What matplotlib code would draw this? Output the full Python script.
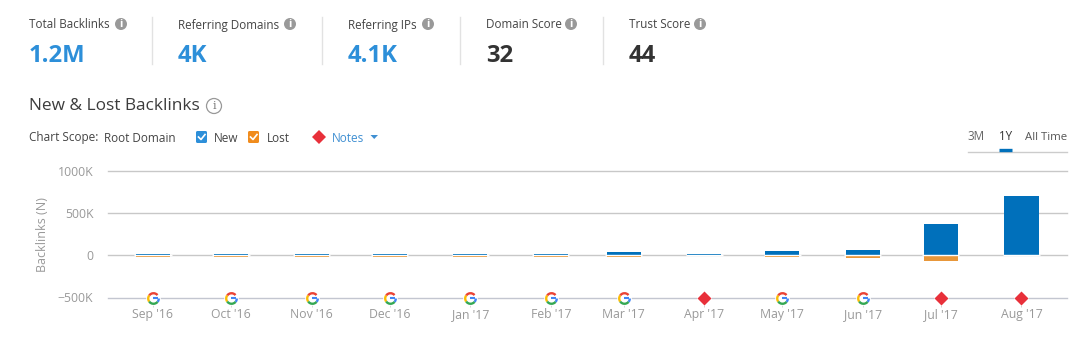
import matplotlib
matplotlib.use('Agg')
import matplotlib.pyplot as plt
import matplotlib.dates as mdates
from matplotlib.patches import Circle, FancyBboxPatch, Polygon
from matplotlib.path import Path
import numpy as np
import pandas as pd

plt.rcParams['font.family'] = ['Open Sans', 'DejaVu Sans']

# Chart data (thousands of backlinks)
months = pd.to_datetime(['2016-09-01', '2016-10-01', '2016-11-01', '2016-12-01',
                         '2017-01-01', '2017-02-01', '2017-03-01', '2017-04-01',
                         '2017-05-01', '2017-06-01', '2017-07-01', '2017-08-01'])
month_labels = ["Sep '16", "Oct '16", "Nov '16", "Dec '16", "Jan '17", "Feb '17",
                "Mar '17", "Apr '17", "May '17", "Jun '17", "Jul '17", "Aug '17"]
new_links = [18, 18, 18, 18, 18, 18, 45, 18, 50, 60, 375, 708]
lost_links = [-20, -20, -20, -20, -20, -20, -20, -5, -18, -32, -65, -3]
note_kind = ['g', 'g', 'g', 'g', 'g', 'g', 'g', 'd', 'g', 'g', 'd', 'd']
y_ticks = [-500, 0, 500, 1000]
y_tick_labels = ['\u2212500K', '0', '500K', '1000K']

# Header stats
stat_names = ['Total Backlinks', 'Referring Domains', 'Referring IPs', 'Domain Score', 'Trust Score']
stat_values = ['1.2M', '4K', '4.1K', '32', '44']
stat_colors = ['#2d8fd9', '#2d8fd9', '#2d8fd9', '#333333', '#333333']
stat_x = [29, 178, 348, 486, 629]
stat_icon_x = [121, 290, 428, 571, 700]
divider_x = [152, 322, 460, 603]

W, H = 1086, 352
BLUE = '#0070bb'
ORANGE = '#e8973a'
GREY = '#999999'
fig = plt.figure(figsize=(W / 100, H / 100), dpi=100, facecolor='white')

# overlay in pixel coords for the page furniture
pg = fig.add_axes([0, 0, 1, 1])
pg.set_xlim(0, W)
pg.set_ylim(H, 0)
pg.axis('off')


def info_icon(x, y, r=6):
    pg.add_patch(Circle((x, y), r, fc='#999999', ec='none'))
    pg.text(x, y + 0.3, 'i', color='white', fontsize=8, fontweight='bold', ha='center', va='center')


for name, val, col, x, ix in zip(stat_names, stat_values, stat_colors, stat_x, stat_icon_x):
    pg.text(x, 25, name, fontsize=8.4, color='#444444', va='center')
    pg.text(x, 55.5, val, fontsize=17.2, color=col, fontweight='bold', va='center')
    info_icon(ix, 24)
for x in divider_x:
    pg.plot([x, x], [17, 64], color='#e2e2e2', lw=1)

pg.text(29, 106, 'New & Lost Backlinks', fontsize=12.4, color='#3c3c3c', va='center')
pg.add_patch(Circle((214, 106), 7.5, fc='white', ec='#999999', lw=0.9))
pg.text(214, 106, 'i', fontsize=8, color='#777777', ha='center', va='center', family='DejaVu Serif')

pg.text(29, 138, 'Chart Scope:', fontsize=8.5, color='#444444', va='center')
pg.text(104.5, 138, 'Root Domain', fontsize=8.5, color='#444444', va='center')


def checkbox(x, col):
    pg.add_patch(FancyBboxPatch((x + 1, 132), 9, 10, boxstyle='round,pad=1,rounding_size=1.5', fc=col, ec='none'))
    pg.plot([x + 2.5, x + 5, x + 9], [137, 139.5, 134.5], color='white', lw=1.2)


checkbox(196, '#2d8fd9')
pg.text(214, 138, 'New', fontsize=8.5, color='#444444', va='center')
checkbox(248, '#f08c1e')
pg.text(266.5, 138, 'Lost', fontsize=8.5, color='#444444', va='center')
pg.add_patch(Polygon([[319, 130], [326, 137], [319, 144], [312, 137]], fc='#e8303a', ec='none'))
pg.text(332, 138, 'Notes', fontsize=8.5, color='#3f8fd2', va='center')
pg.add_patch(Polygon([[370.5, 135], [378, 135], [374.2, 139]], fc='#3f8fd2', ec='none'))

# range switcher
pg.text(976, 137, '3M', fontsize=8.4, color='#666666', ha='center', va='center')
pg.text(1005.5, 137, '1Y', fontsize=8.4, color='#333333', ha='center', va='center')
pg.text(1067, 137, 'All Time', fontsize=8.2, color='#555555', ha='right', va='center')
pg.plot([968, 1067], [151.5, 151.5], color='#cccccc', lw=1)
pg.plot([999, 1012], [150.3, 150.3], color=BLUE, lw=2.4, solid_capstyle='butt')

# main chart
ax = fig.add_axes([108 / W, 1 - 297.5 / H, (1067 - 108) / W, (297.5 - 171) / H], zorder=2)
ax.patch.set_alpha(0)
day = pd.Timedelta(days=1)
ax.set_xlim(mdates.date2num(months[0] - 17.3 * day), mdates.date2num(months[0] + 351.5 * day))
ax.set_ylim(-500, 1000)
for s in ax.spines.values():
    s.set_visible(False)
for t in y_ticks:
    ax.axhline(t, color='#c3c6d0' if t == -500 else '#c8c8c8', lw=1, clip_on=False, zorder=1)

x = np.asarray(mdates.date2num(months))
bar_w = 13.1
ax.bar(x, new_links, width=bar_w, color=BLUE, linewidth=0, zorder=3)
ax.bar(x, lost_links, width=bar_w, color=ORANGE, linewidth=0, zorder=3)
# white gap between the two bars and in the baseline next to them
ax.hlines([0] * len(x), x - bar_w / 2 - 0.6, x + bar_w / 2 + 0.6, color='white', lw=1, zorder=4)

ax.set_yticks(y_ticks, y_tick_labels)
ax.set_xticks(x, month_labels)
ax.tick_params(axis='y', length=0, pad=10.5, labelsize=8.8, labelcolor=GREY)
ax.tick_params(axis='x', length=6.5, width=0.7, color='#d5d5d5', pad=1, labelsize=8.8, labelcolor=GREY)
ax.set_ylabel('Backlinks (N)', fontsize=9, color=GREY)
ax.yaxis.set_label_coords((49 - 108) / (1067 - 108), 0.498)

# note markers along the -500K line
g_x = [d for d, k in zip(x, note_kind) if k == 'g']
d_x = [d for d, k in zip(x, note_kind) if k == 'd']
base = y_ticks[0]
ax.plot(x, [base] * len(x), ls='none', marker='o', ms=10.5, mfc='white', mec='none', clip_on=False, zorder=4)
ax.plot(d_x, [base] * len(d_x), ls='none', marker='D', ms=7.2, mfc='#e8303a', mec='none', clip_on=False, zorder=5)
g_arcs = [(-40, 0, '#4285f4'), (40, 145, '#ea4335'), (145, 215, '#fbbc05'), (215, 320, '#34a853')]
for a, b, col in g_arcs:
    ax.plot(g_x, [base] * len(g_x), ls='none', marker=Path.arc(a, b), ms=7.6, mfc='none', mec=col, mew=1.7,
            clip_on=False, zorder=5)
g_bar = Path([[0, 0], [1, 0]])
ax.plot(g_x, [base] * len(g_x), ls='none', marker=g_bar, ms=7.6, mfc='none', mec='#4285f4', mew=1.5,
        clip_on=False, zorder=6)

fig.savefig('out.png', dpi=100, facecolor='white')
